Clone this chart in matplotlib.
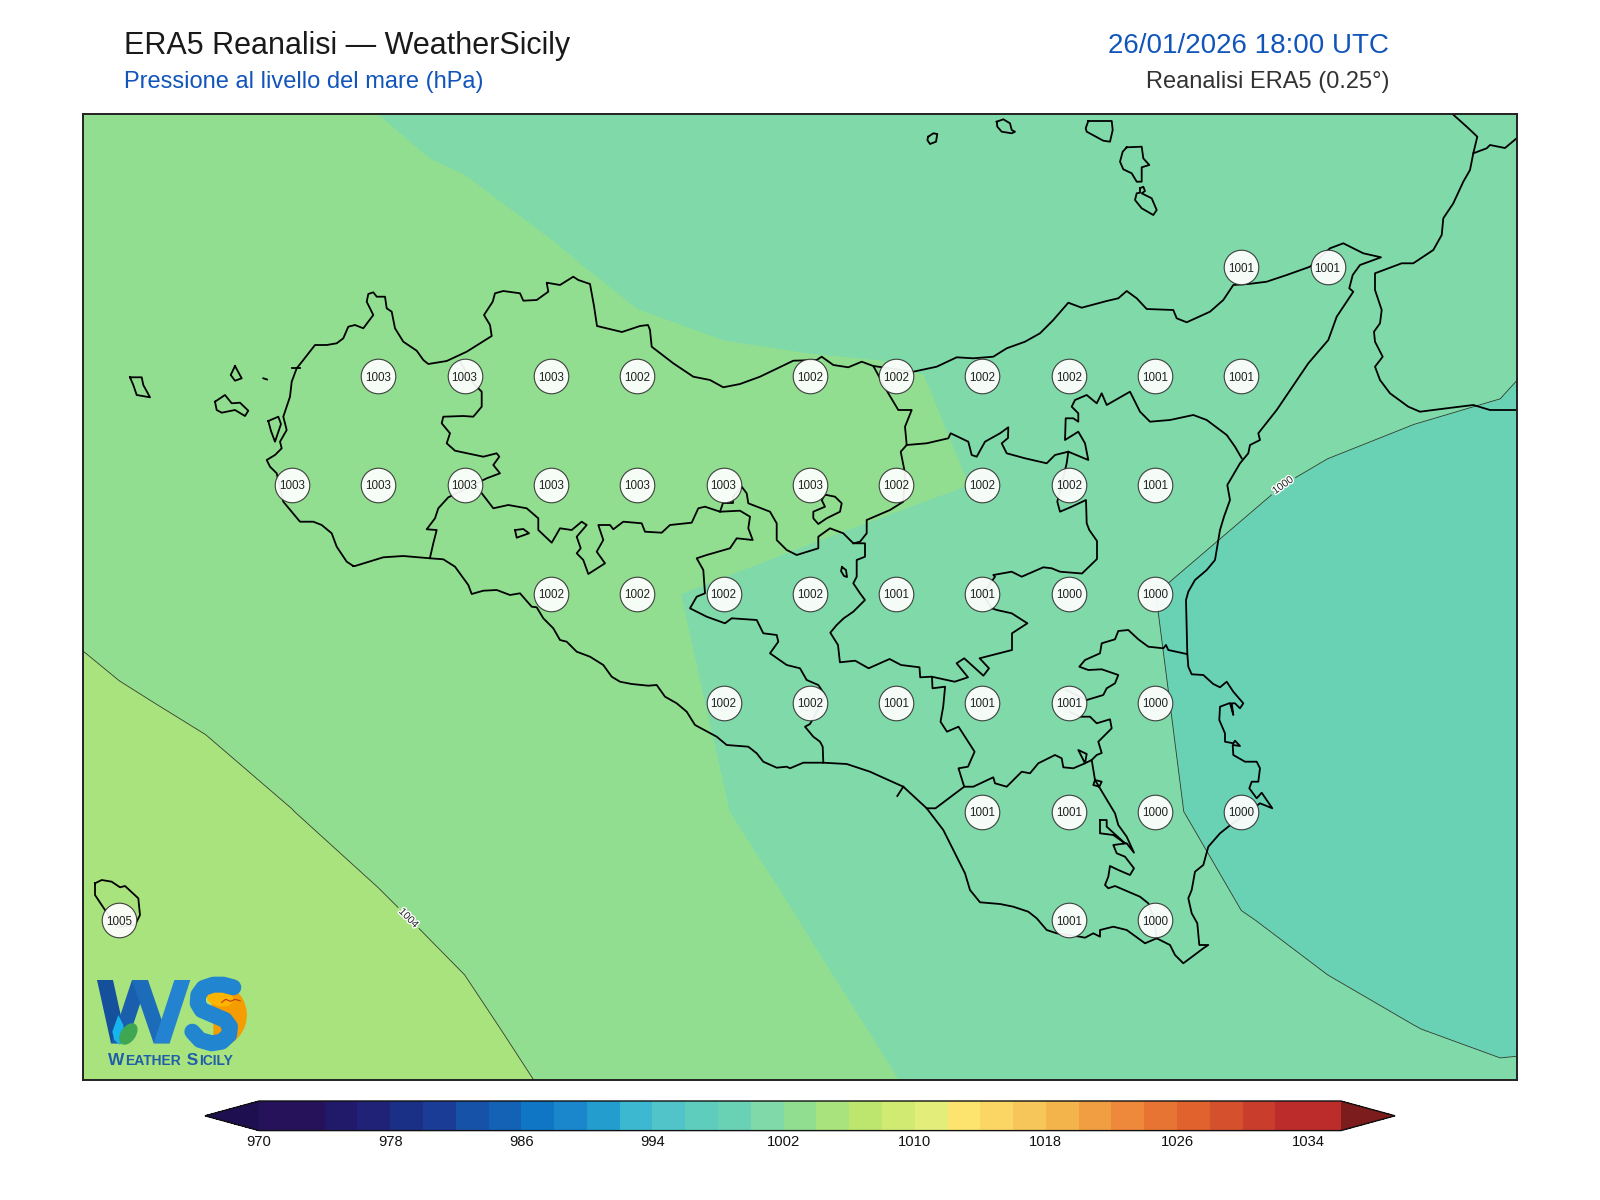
import numpy as np
import matplotlib
matplotlib.use("Agg")
import matplotlib.pyplot as plt
import matplotlib.patheffects as pe
from matplotlib.colors import ListedColormap, BoundaryNorm
from matplotlib.patches import Ellipse, Wedge, Polygon

plt.rcParams['font.family'] = ['Liberation Sans', 'DejaVu Sans']

# ---------------- data ----------------
lons = [11.75, 12.0, 12.25, 12.5, 12.75, 13.0, 13.25, 13.5, 13.75, 14.0, 14.25, 14.5, 14.75, 15.0, 15.25, 15.5, 15.75, 16.0, 16.25]
lats = [38.75, 38.5, 38.25, 38.0, 37.75, 37.5, 37.25, 37.0, 36.75, 36.5, 36.25]

p_3875 = [1002.9, 1002.7, 1002.4, 1002.05, 1001.69, 1001.4, 1001.1, 1001.0, 1000.95, 1000.9, 1000.85, 1000.8, 1000.75, 1000.7, 1000.6, 1000.5, 1000.45, 1000.4, 1000.3]
p_3850 = [1003.2, 1003.1, 1002.9, 1002.55, 1002.2, 1001.855, 1001.43, 1001.2, 1001.1, 1001.0, 1001.0, 1000.95, 1000.9, 1000.8, 1000.7, 1000.6, 1000.5, 1000.45, 1000.4]
p_3825 = [1003.3, 1003.2, 1003.15, 1003.1, 1002.95, 1002.76, 1002.19, 1001.685, 1001.47, 1001.6, 1001.5, 1001.35, 1001.2, 1001.05, 1000.95, 1000.9, 1000.6, 1000.45, 1000.3]
p_3800 = [1003.4, 1003.3, 1003.25, 1003.2, 1003.1, 1003.0, 1002.75, 1002.49, 1002.25, 1002.1, 1002.07, 1001.85, 1001.6, 1001.3, 1000.95, 1000.84, 1000.24, 1000.106, 999.665]
p_3775 = [1003.5, 1003.45, 1003.35, 1003.25, 1003.1, 1003.0, 1002.9, 1002.75, 1002.6, 1002.55, 1002.2, 1001.96, 1001.55, 1001.0, 1000.25, 999.735, 999.7, 999.6, 999.5]
p_3750 = [1003.9, 1003.6, 1003.5, 1003.35, 1003.1, 1002.75, 1002.4, 1002.11, 1001.89, 1001.53, 1001.38, 1000.8, 1000.45, 1000.005, 999.49, 999.45, 999.4, 999.4, 999.4]
p_3725 = [1004.57, 1004.1, 1003.85, 1003.6, 1003.25, 1002.95, 1002.6, 1002.35, 1001.9, 1001.6, 1001.15, 1000.85, 1000.55, 1000.05, 999.76, 999.6, 999.5, 999.45, 999.45]
p_3700 = [1005.2, 1004.75, 1004.36, 1004.01, 1003.65, 1003.3, 1002.95, 1002.55, 1002.03, 1001.55, 1001.2, 1000.9, 1000.6, 1000.1, 999.8, 999.6, 999.5, 999.5, 999.5]
p_3675 = [1005.6, 1005.25, 1004.9, 1004.55, 1004.15, 1003.755, 1003.3, 1002.95, 1002.63, 1001.9, 1001.4, 1000.95, 1000.6, 1000.35, 1000.02, 999.9, 999.75, 999.65, 999.6]
p_3650 = [1005.9, 1005.65, 1005.4, 1005.05, 1004.65, 1004.245, 1003.66, 1003.25, 1002.95, 1002.46, 1001.76, 1001.2, 1000.85, 1000.6, 1000.4, 1000.1, 1000.01, 999.9, 999.8]
p_3625 = [1005.95, 1005.9, 1005.8, 1005.5, 1005.1, 1004.65, 1004.14, 1003.65, 1003.2, 1002.8, 1002.31, 1001.6, 1001.2, 1000.95, 1000.7, 1000.6, 1000.45, 1000.28, 1000.9]

stn_lon = [15.25, 15.5,
           12.75, 13.0, 13.25, 13.5, 14.0, 14.25, 14.5, 14.75, 15.0, 15.25,
           12.5, 12.75, 13.0, 13.25, 13.5, 13.75, 14.0, 14.25, 14.5, 14.75, 15.0,
           13.25, 13.5, 13.75, 14.0, 14.25, 14.5, 14.75, 15.0,
           13.75, 14.0, 14.25, 14.5, 14.75, 15.0,
           14.5, 14.75, 15.0, 15.25,
           12.0, 14.75, 15.0]
stn_lat = [38.25] * 2 + [38.0] * 10 + [37.75] * 11 + [37.5] * 8 + [37.25] * 6 + [37.0] * 4 + [36.75] * 3
stn_hpa = [1001, 1001,
           1003, 1003, 1003, 1002, 1002, 1002, 1002, 1002, 1001, 1001,
           1003, 1003, 1003, 1003, 1003, 1003, 1003, 1002, 1002, 1002, 1001,
           1002, 1002, 1002, 1002, 1001, 1001, 1000, 1000,
           1002, 1002, 1001, 1001, 1001, 1000,
           1001, 1001, 1000, 1000,
           1005, 1001, 1000]

levels = list(range(970, 1038, 2))
cbar_ticks = [970, 978, 986, 994, 1002, 1010, 1018, 1026, 1034]
band_colors = ['#25125b', '#25125b', '#211a6b', '#1f2277', '#1a2f86', '#1a3c96', '#1652a8', '#1362b5', '#0f76c5',
               '#1a87cd', '#239cce', '#3cb8d0', '#50c4c9', '#5ecdbd', '#69d2b5', '#80d9a8', '#92de90', '#a9e37e',
               '#bde66e', '#d0ea72', '#e3ed7a', '#fce46e', '#fbd664', '#f7c65a', '#f4b44c', '#f19e42', '#ee883a',
               '#e77432', '#e2622d', '#d5502c', '#c83d2c', '#bb2c2b', '#bb2c2b']
under_color = '#1e0f50'
over_color = '#7d1c1c'

sicily = [(353.3,566),(346.7,561.7),(336.7,546.7),(331.7,533.3),(321.7,525),(313.3,521.7),(306.7,521.7),(300,521.7),(291.7,511.7),(283.3,501.7),(276.7,473.3),(270,466.7),(266.7,460),(275,455),(281.7,448.3),(280,441.7),(286.7,430),(283.3,416.7),(290,396.7),(291.7,381.7),(296.7,368.3),(303.3,360),(315,345),(326.7,345),(336.7,343.3),(343.3,338.3),(348.3,326.7),(355,325),(363.3,328.3),(373.3,315),(366.7,301.7),(368.3,294),(373.3,292.3),(376.7,296.7),(385,296.7),(386.7,308.3),(391.7,311.7),(395,328.3),(403.3,341.7),(416.7,350.7),(423.3,360),(428.3,364),(446.7,361),(466.7,351.7),(480,343.3),(491.7,336),(490,325),(484,315),(492.7,301.7),(495,293.3),(503.3,291),(520,293.3),(523.3,300.7),(536.7,300),(548.3,291.7),(546.7,282.7),(560,285),(573.3,276.7),(578.3,280),(590,284),(594,306),(597,326),(622,332),(640,326),(648,325),(650,330),(651.7,346.7),(673.3,363.3),(693.3,376.7),(710,380),(723.3,387.3),(740,384),(760,376.7),(793.3,360.7),(816.7,360),(821.7,356.7),(833.3,365),(848.3,367.3),(861.7,361.7),(873.3,366),(913.3,371.7),(936.7,366.7),(956.7,357.3),(973.3,358.3),(993.3,356.7),(1006.7,348.3),(1025,341.7),(1040,333.3),(1053.3,320),(1068.3,302.7),(1081.7,307.7),(1106.7,301),(1118.3,298.3),(1126.7,291),(1136.7,298.3),(1146.7,309),(1173.3,310),(1176.7,318.3),(1186.7,322.3),(1210,311.7),(1223.3,300),(1233.3,285),(1248.3,284),(1266.7,281.7),(1286.7,275),(1310,266.7),(1330,248.3),(1343.3,243.3),(1363.3,253.3),(1381,257.3),(1360,265),(1352.7,275),(1349.3,288.3),(1353.3,291.7),(1336.7,316.7),(1328.3,340),(1308.3,363.3),(1276.7,410),(1258.3,433.3),(1260,440),(1250,445),(1248.3,453.3),(1240,463.3),(1227.3,485),(1230,500),(1224,516.7),(1220,530),(1215,560),(1206.7,570),(1195,580),(1188.3,591.7),(1186,600),(1187.3,653.3),(1188.3,666.7),(1191.7,674.3),(1203.3,675),(1213.3,684),(1220,687.3),(1226.7,681.7),(1233.3,691.7),(1243.3,703.3),(1240,708.3),(1235,703.3),(1231.7,703.3),(1233.3,715),(1230,703),(1220,706.7),(1219.3,720),(1225,733.3),(1225,741.7),(1233.3,743.3),(1235,740.7),(1240,746),(1232.7,745),(1233.3,755),(1245,761.7),(1256.7,761.7),(1260,768.3),(1258.3,781.7),(1251.7,781.7),(1249.3,788.3),(1256.7,798.3),(1261.7,792.7),(1272.3,808.3),(1260,803.3),(1228.3,826.7),(1220,833.3),(1208.3,846.7),(1203.3,865),(1195,871.7),(1191.7,890),(1188.3,898.3),(1191.7,913.3),(1197.3,923.3),(1199.3,945),(1208.3,945),(1203.3,948.3),(1196.7,953.3),(1183.3,963.3),(1175,955),(1170,945),(1156.7,938.3),(1145,943.3),(1126.7,930),(1113.3,926.7),(1100,930),(1100,936.7),(1093.3,933.3),(1085,937.7),(1080,936.7),(1056.7,933.3),(1046.7,930),(1036.7,918.3),(1028.3,911.7),(1013.3,906.7),(1000,904),(980,902.3),(970,890),(965,873.3),(956.7,856.7),(943.3,830),(926.7,808.3),(903.3,786.7),(888.3,780),(870,771.7),(846.7,764),(823.3,762.7),(803.3,762.7),(790,768.3),(786.7,766.7),(776.7,767.7),(763.3,761.7),(756.7,753.3),(748.3,746.7),(726.7,745),(716.7,736.7),(695,725),(686.7,711.7),(676.7,703.3),(665,696.7),(656.7,685),(648.3,685.7),(631.7,684),(620,681.7),(611.7,676.7),(603.3,665),(590,656.7),(576.7,651.7),(566.7,641.7),(560,640),(553.3,628.3),(543.3,618.3),(536.7,607.3),(531.7,606.7),(520,593.3),(510,595),(496.7,590),(483.3,590.7),(471.7,594),(468.3,585),(455,566.7),(443.3,559.3),(430,558.3),(403.3,556),(383.3,557.3),(355,566),(353.3,566)]
calabria = [(1453.3,114.7),(1466.7,126.7),(1477.3,136.7),(1473.3,153.3),(1470,170),(1463.3,181.7),(1453.3,203.3),(1443.3,218.3),(1441.7,235),(1433.3,250),(1413.3,263.3),(1401.7,263.3),(1375,273.3),(1375,290),(1381.7,310),(1380,323.3),(1374,331.7),(1375,341.7),(1382.7,356.7),(1375,366.7),(1380,380),(1390,393.3),(1408.3,406.7),(1420,411.7),(1446.7,408.3),(1473.3,405),(1490,410),(1517,410)]
calabria_branch = [(1473.3,153.3),(1486.7,148.3),(1490,145),(1505,148),(1517,138)]
b_tp_pa = [(460,361.7),(473.3,383.3),(481.7,391.7),(481.7,406.7),(473.3,416.7),(463.3,416),(443.3,416.7),(441.7,423.3),(450,433.3),(446.7,443.3),(455,450.7),(483.3,456.7),(496.7,453.3),(499.3,456.7),(493.3,465),(500,473.3),(486.7,478.3),(476.7,483.3),(456.7,493.3),(448.3,497.3),(438.3,508.3),(435,518.3),(426.7,529.3),(436.7,530),(433.3,543.3),(430,557.7)]
b_pa_ag = [(476.7,486.7),(493.3,508.3),(508.3,505),(526.7,508.3),(538.3,518.3),(538.3,530),(551.7,542.7),(560,528.3),(571.7,530),(581.7,521.7),(586.7,525),(576.7,536.7),(580.7,548.3),(576.7,553.3),(583.3,560),(588.3,574),(605,563.3),(596.7,551.7),(603.3,540),(598.3,525),(610,525),(613.3,529.3),(623.3,521.7),(641.7,523.3),(645,531.7),(661.7,532.7),(670,525),(691.7,522.7),(698.3,508.3),(705,506.7),(720,511.7),(740,510.7),(750,516.7),(748.3,528.3),(752.7,540),(736.7,538.3),(730,548.3),(706.7,555),(696.7,558.3),(703.3,570),(705,593.3),(696.7,596.7),(690,608.3),(706.7,616.7),(725,623.3),(731.7,618.3),(756.7,620),(763.3,633.3),(776.7,635),(778.3,641.7),(770,653.3),(786.7,665),(800,668.3),(806.7,680),(818.3,685),(825,695),(815,715),(810,724),(805,726.7),(813.3,736.7),(820,741.7),(822.7,746.7),(823.3,762.7)]
b_pa_cl = [(720,511.7),(723,503),(733,503),(733,497),(741.7,486.7),(746.7,493.3),(748.3,503.3),(770,511.7),(776.7,523.3),(776.7,540),(786.7,550),(796.7,555),(818.3,548.3),(818.3,536.7),(830,528.3),(843.3,533.3),(853.3,543.3),(865,543.3),(865,556.7),(856.7,560),(856.7,576.7),(853.3,583.3),(860,593.3),(865,600),(853.3,611.7),(843.7,618.3),(836.7,625),(830.3,632.7),(838,645),(839.9,662.3),(855.2,660.7),(868.6,668.3),(889.6,659),(901,665),(919.5,667.3),(920.2,677.3),(931.7,676.7),(954.7,681.7),(968,677.3),(956.6,663.3),(964.2,658.3),(983.4,675.7),(989,668.3),(979.6,658.3),(1012,650),(1012,633.3),(1027.4,623.3),(1011.7,613.3),(996.8,610),(991.7,608.3),(982.7,594.3),(995,576.7),(993.3,575),(1011.7,571.7),(1021.7,576.7),(1043.3,567.3),(1051.7,568.3),(1060,571.7),(1082,573.5),(1097,559),(1097,541),(1089.3,530),(1086.7,523.3),(1086,500),(1071.7,506.7),(1060,511.7),(1057.3,501.7),(1066.7,463.3),(1068.3,451.7)]
b_gangi = [(826.7,495),(835,496.7),(841.7,503.3),(840,511.7),(826.7,518.3),(818.3,524),(813.3,518.3),(813.3,511.7),(825,506.7),(821.7,500),(825,495)]
b_pa_me = [(873.3,366),(888.3,393.3),(898.3,410),(911.7,410),(905,426.7),(906.7,445),(900.7,451.7),(905,473.3),(903.3,501.7),(890,510),(866.7,520),(866.7,533.3),(860,541.7),(853.3,543.3)]
b_me_en = [(906.7,445),(926.7,443.3),(948.3,438.3),(950.7,433.3),(968.3,441.7),(971.7,455),(976.7,456.7),(985,441.7),(1000,433.3),(1008.3,427.3),(1008,438),(1001.7,443.3),(1006.7,453.3),(1025,458.3),(1046.7,463.3),(1055,455),(1068.3,451.7),(1088.3,460),(1085,443.3),(1078.3,431.7),(1065,440),(1065.7,418.3),(1073.3,418.3),(1078.3,421.7),(1078.3,413.3),(1071.7,406.7),(1075,400),(1086.7,395),(1096.7,403.3),(1101.7,393.3),(1106.7,405),(1130,391.7),(1140,411.7),(1150,421.7),(1170,420),(1193.3,415),(1206.7,420),(1226.7,435),(1235,446.7),(1241.7,458.3)]
b_cl_rg = [(932,677),(932.5,688.3),(945.1,686.7),(943.2,706.7),(940.5,721.7),(947,731.7),(958.5,726.7),(974.6,751.7),(968,766.7),(958.5,768.3),(964.2,786.7),(950.9,796.7),(935.5,808.3),(926.7,808.3)]
b_rg_ct = [(964.2,786.7),(973.3,786.7),(993.3,777.3),(995,783.3),(1006.7,786.7),(1021.7,771.7),(1030,773.3),(1038.3,763.3),(1055,755),(1061.7,758.3),(1063.3,767.3),(1073.3,768.3),(1085,763.3),(1086.7,754),(1078.3,750),(1085,763.3),(1091.7,760),(1096.7,755),(1101.7,753),(1098.3,741.7),(1111.7,728.3),(1110,719.3),(1096.7,723.3),(1090,716.7),(1080,716.7),(1070,712)]
b_ct_en = [(1066,690),(1086.7,700),(1103.3,695),(1106.7,688.3),(1115,683.3),(1118.3,675),(1101.7,669.3),(1088.3,670),(1079.3,666.7),(1085,660),(1100,653.3),(1101.7,643.3),(1115,639.3),(1118.3,631),(1128.3,630),(1138.3,639.3),(1148.3,646.7),(1163.3,648.3),(1166,645),(1168.3,650),(1186.7,654)]
b_sr = [(1091.7,760),(1095,780),(1101.7,781.7),(1099.3,786.7),(1093.3,785),(1095,780),(1105,796.7),(1115,813.3),(1118.3,825),(1126.7,836.7),(1134,852.7),(1126.7,843.3),(1113.3,845),(1116.7,853.3),(1125,856.7),(1134,868.3),(1130,875),(1118.3,870),(1110,866),(1108.3,876.7),(1105,885),(1108.3,888.3),(1115,886),(1128.3,891.7),(1140,896.7),(1148.3,903.3),(1154,918),(1156.7,938.3)]
lake_sr = [(1100,820),(1106.7,820),(1106.7,826.7),(1125,843.3),(1113.3,835),(1100,833.3),(1100,820)]
spur_south = [(903.3,786.7),(897.3,796)]
lake_a = [(842,567),(846,570),(847,577),(844,576),(841,571),(842,567)]
lake_b = [(515,530),(523.3,529),(529,533.3),(516.7,537.7),(515,530)]
stagnone = [(268.3,421),(278.3,416.7),(281,424),(275,441.7),(271,431),(268.3,421)]
marettimo = [(130,377.3),(141.7,377.3),(143.3,385),(150,397.3),(136.7,395),(133.3,385),(130,377.3)]
levanzo = [(235,366),(241.7,378.3),(235,380.7),(230.7,375),(235,366)]
favignana = [(215,401.7),(225,395),(231.7,403.3),(240,402.7),(248.3,410.7),(245,416),(235,410),(221.7,412.7),(216.7,410),(215,401.7)]
formica = [(263.3,378.3),(267,379.5)]
tiny_a = [(291.7,368.3),(300,368.3)]
pantelleria = [(95,883.3),(101.7,880),(111.7,881.7),(120,887.3),(125,886),(138.3,898.3),(140,915),(135,925),(117,927),(105,910),(95,895),(95,883.3)]
ustica = [(928.3,136.7),(933.3,133.3),(937.3,134),(936,141.7),(930,144),(927.3,140),(928.3,136.7)]
filicudi = [(996.7,121.7),(1003.3,119.3),(1010,123.3),(1011.7,130),(1015,131.7),(1011.7,133.3),(1001.7,131.7),(997.3,126.7),(996.7,121.7)]
salina = [(1088.3,121),(1111.7,121),(1112.7,130),(1110,141.7),(1103.3,140.7),(1086.7,131.7),(1085.7,128.3),(1088.3,121)]
lipari = [(1126.7,147.3),(1141.7,146.7),(1143.3,158.3),(1149.3,165),(1141.7,167.3),(1141.7,181.7),(1136.7,181.7),(1131.7,173.3),(1123.3,169.3),(1120,161.7),(1122.7,151.7),(1126.7,147.3)]
vulcano = [(1140,188.3),(1143.3,186.7),(1145,191),(1141.7,193.3),(1151.7,198.3),(1156.7,210),(1153.3,215),(1141.7,208.3),(1135,200),(1136.7,193.3),(1140,192.7),(1140,188.3)]
outlines = [sicily, calabria, calabria_branch, b_tp_pa, b_pa_ag, b_pa_cl, b_gangi, b_pa_me, b_me_en, b_cl_rg, b_rg_ct,
            b_ct_en, b_sr, lake_sr, spur_south, lake_a, lake_b, stagnone, marettimo, levanzo, favignana, formica,
            tiny_a, pantelleria, ustica, filicudi, salina, lipari, vulcano]

title_left = "ERA5 Reanalisi \u2014 WeatherSicily"
subtitle_left = "Pressione al livello del mare (hPa)"
title_right = "26/01/2026 18:00 UTC"
subtitle_right = "Reanalisi ERA5 (0.25\u00b0)"

# ---------------- layout ----------------
W, H = 1600, 1200
fig = plt.figure(figsize=(16, 12), dpi=100, facecolor='white')


def frame(l, t, r, b):
    return [l / W, 1 - b / H, (r - l) / W, (b - t) / H]


def to_lon(x):
    return 12 + (np.asarray(x, float) - 119.4) / 345.2


def to_lat(y):
    return 36.75 + (920.4 - np.asarray(y, float)) / 435.5


AX_L, AX_T, AX_R, AX_B = 82.7, 114.3, 1517.3, 1079.6
ax = fig.add_axes(frame(AX_L, AX_T, AX_R, AX_B))
ax.set_xlim(to_lon(AX_L), to_lon(AX_R))
ax.set_ylim(to_lat(AX_B), to_lat(AX_T))
ax.set_xticks([])
ax.set_yticks([])
for s in ax.spines.values():
    s.set_linewidth(1.4)
    s.set_color('#222222')
    s.set_zorder(20)

P = np.array([p_3875, p_3850, p_3825, p_3800, p_3775, p_3750, p_3725, p_3700, p_3675, p_3650, p_3625])
cmap = ListedColormap(band_colors)
cmap.set_under(under_color)
cmap.set_over(over_color)
norm = BoundaryNorm(levels, cmap.N)
cf = ax.contourf(lons, lats, P, levels=levels, cmap=cmap, norm=norm, extend='both', zorder=1)
cs = ax.contour(lons, lats, P, levels=[1000, 1004], colors='#2b3a33', linewidths=0.6, zorder=2)
labs = ax.clabel(cs, fmt='%d', fontsize=7.5, inline=True, inline_spacing=3,
                 manual=[(15.364, 37.755), (12.837, 36.755)])
for t in labs:
    t.set_color('#222222')
    t.set_path_effects([pe.withStroke(linewidth=2, foreground='white')])

for o in outlines:
    a = np.array(o)
    ax.plot(to_lon(a[:, 0]), to_lat(a[:, 1]), color='black', lw=1.3, zorder=3, solid_joinstyle='round')

ax.scatter(stn_lon, stn_lat, s=620, facecolor='white', edgecolor='#333333', linewidth=0.8, alpha=0.93, zorder=5)
for lo, la, v in zip(stn_lon, stn_lat, stn_hpa):
    ax.text(lo, la, str(v), ha='center', va='center_baseline', fontsize=8.4, color='#222222', zorder=6)

# titles
fig.text(123.5 / W, 1 - 54 / H, title_left, fontsize=22, color='#1a1a1a', va='baseline', ha='left')
fig.text(123.5 / W, 1 - 88 / H, subtitle_left, fontsize=17, color='#1155bb', va='baseline', ha='left')
fig.text(1389 / W, 1 - 53 / H, title_right, fontsize=20, color='#1155bb', va='baseline', ha='right')
fig.text(1389 / W, 1 - 88 / H, subtitle_right, fontsize=17, color='#333333', va='baseline', ha='right')

# colour bar
cax = fig.add_axes(frame(205, 1101, 1395, 1130.6))
cb = fig.colorbar(cf, cax=cax, orientation='horizontal', extend='both', extendfrac=0.05,
                  ticks=cbar_ticks, spacing='proportional', drawedges=False)
cb.minorticks_off()
cb.ax.tick_params(length=0, labelsize=10.6, pad=3, colors='#111111')
cb.outline.set_linewidth(1.0)
cb.outline.set_edgecolor('#111111')

# logo on a full-figure overlay, in sheet units
lg = fig.add_axes([0, 0, 1, 1], facecolor='none', zorder=10)
lg.set_xlim(0, W)
lg.set_ylim(H, 0)
lg.axis('off')


def zx(v):
    return 85 + np.asarray(v, float) / 3


def zy(v):
    return 960 + np.asarray(v, float) / 3


lg.add_patch(Wedge((zx(385), zy(165)), 33.5, -100, 90, facecolor='#f59c00', edgecolor='none', zorder=1))
lg.add_patch(Ellipse((zx(405), zy(115)), 27, 16, angle=10, facecolor='#ffb400', edgecolor='none', zorder=1))
w_x = [60, 102, 165, 230, 292]
w_y = [60, 250, 60, 250, 60]
w_cols = ['#14509c', '#1a5fae', '#1c6cba', '#2483d0']
for i in range(4):
    xs = [w_x[i] - 24, w_x[i] + 24, w_x[i + 1] + 24, w_x[i + 1] - 24]
    ys = [w_y[i], w_y[i], w_y[i + 1], w_y[i + 1]]
    lg.add_patch(Polygon(np.c_[zx(xs), zy(ys)], facecolor=w_cols[i], edgecolor='none', zorder=2))
s_x = [445, 415, 385, 355, 340, 338, 350, 385, 420, 435, 432, 410, 380, 345, 322]
s_y = [82, 74, 74, 84, 105, 130, 150, 165, 180, 200, 225, 245, 250, 240, 215]
lg.plot(zx(s_x), zy(s_y), color='#2186cf', lw=11.5, solid_capstyle='round', solid_joinstyle='round', zorder=3)
lg.plot(zx([410, 422, 437, 450, 465]), zy([127, 118, 124, 118, 122]), color='#c0441a', lw=0.9, zorder=4)
lg.add_patch(Polygon(np.c_[zx([100, 115, 118, 105, 88, 82]), zy([165, 195, 225, 255, 240, 215])], facecolor='#18b4f0', edgecolor='none', zorder=4))
lg.add_patch(Ellipse((zx(130), zy(222)), 24, 15, angle=-55, facecolor='#3fa652', edgecolor='none', zorder=5))

run_x = 108.0
for part, size in [('W', 12.4), ('EATHER', 10.0), (' S', 12.4), ('ICILY', 10.0)]:
    t = lg.text(run_x, 1065, part, fontsize=size, fontweight='bold', color='#1f5ea8', va='baseline', ha='left', zorder=6)
    run_x = t.get_window_extent(fig.canvas.get_renderer()).x1 + 0.8

fig.savefig('out.png', dpi=100, facecolor='white')
